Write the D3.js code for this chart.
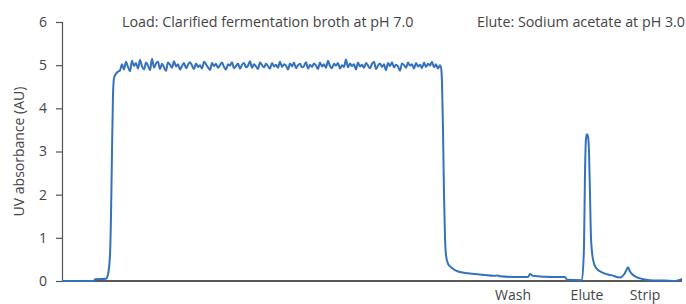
<!DOCTYPE html>
<html>
<head>
<meta charset="utf-8">
<script src="https://cdn.jsdelivr.net/npm/d3@7"></script>
<style>
  body { margin: 0; background: #fff; }
  text { font-family: "Open Sans", sans-serif; fill: #444; }
</style>
</head>
<body>
<div id="chart"></div>
<script>
// define dimensions
var svgWidth = 686;
var svgHeight = 304;
var margin = { top: 22, right: 4, bottom: 23, left: 62 };
var width = svgWidth - margin.left - margin.right;
var height = svgHeight - margin.top - margin.bottom;

// chart data (volume units along the run, UV absorbance in AU)
var yTicks = [0, 1, 2, 3, 4, 5, 6];
var phaseLabels = ["Wash", "Elute", "Strip"];
var phasePos = [451, 525, 583];
var notes = ["Load: Clarified fermentation broth at pH 7.0", "Elute: Sodium acetate at pH 3.0"];

// start of the load
var riseX = [0, 32, 33, 44, 46, 48, 49, 50, 51, 52, 54, 56];
var riseY = [0, 0, 0.04, 0.05, 0.15, 0.6, 1.5, 3.0, 4.3, 4.7, 4.8, 4.85];

// load plateau, every 2 units from 58 to 378
var plateauStart = 58;
var plateauY = [
  4.88, 5.02, 4.90, 5.08, 4.96, 4.86, 5.10, 4.98, 5.05, 4.92, 5.12, 4.97, 4.90, 5.06, 4.99, 4.88,
  5.15, 4.94, 5.04, 5.08, 4.91, 5.03, 4.95, 4.87, 5.06, 5.01, 4.94, 5.09, 4.97, 5.02, 4.90, 4.98,
  5.05, 4.93, 5.01, 5.07, 4.99, 4.91, 5.04, 4.96, 5.00, 4.92, 5.08, 5.02, 4.95, 4.89, 5.05, 4.98,
  5.03, 4.94, 5.00, 5.06, 4.96, 4.90, 5.02, 4.99, 5.07, 4.93, 4.98, 5.04, 4.92, 5.01, 5.05, 4.95,
  4.99, 5.09, 4.94, 5.02, 4.97, 4.91, 5.06, 5.00, 4.95, 5.03, 4.98, 4.92, 5.05, 4.97, 5.01, 4.94,
  5.08, 4.96, 5.02, 4.99, 4.90, 5.04, 4.97, 5.06, 4.93, 5.00, 5.03, 4.95, 4.98, 5.07, 4.92, 5.01,
  4.96, 5.04, 4.99, 4.91, 5.06, 4.97, 5.02, 4.94, 5.10, 4.98, 4.93, 5.03, 4.99, 5.05, 4.92, 5.00,
  4.96, 5.13, 4.95, 5.04, 4.98, 5.02, 4.90, 5.06, 4.97, 5.01, 4.94, 5.05, 4.99, 4.93, 5.03, 5.08,
  4.91, 4.99, 5.04, 4.96, 5.02, 4.88, 5.05, 4.98, 5.07, 4.95, 5.01, 4.97, 4.87, 5.04, 5.00, 4.94,
  5.06, 4.99, 5.02, 4.92, 5.05, 4.97, 5.01, 4.93, 5.06, 4.96, 5.03, 4.99, 5.08, 4.95, 5.02, 4.92,
  5.00
];

// end of load, wash, elute and strip
var tailX = [379, 380, 381, 382, 383, 384, 386, 390, 396, 406, 418, 433, 436, 438, 458, 466, 468, 471,
  483, 503, 505, 520, 522, 523, 524, 525, 526, 527, 528, 529, 531, 534, 540, 550, 558, 562, 565, 566,
  568, 572, 578, 588, 603, 613, 617, 620];
var tailY = [4.95, 4.6, 3.5, 2.0, 1.0, 0.6, 0.4, 0.3, 0.22, 0.18, 0.15, 0.12, 0.13, 0.11, 0.09, 0.09,
  0.16, 0.12, 0.1, 0.09, 0.03, 0.02, 0.8, 2.5, 3.3, 3.4, 3.35, 3.0, 2.0, 1.0, 0.5, 0.3, 0.2, 0.13,
  0.08, 0.15, 0.28, 0.32, 0.22, 0.12, 0.06, 0.02, 0.01, 0.0, 0.02, 0.05];

// build one series
var series = [];
riseX.forEach(function (x, i) { series.push({ x: x, y: riseY[i] }); });
plateauY.forEach(function (y, i) { series.push({ x: plateauStart + i * 2, y: y }); });
tailX.forEach(function (x, i) { series.push({ x: x, y: tailY[i] }); });

var svg = d3.select("#chart")
  .append("svg")
  .attr("width", svgWidth)
  .attr("height", svgHeight);

var g = svg.append("g")
  .attr("transform", "translate(" + margin.left + "," + margin.top + ")");

var x = d3.scaleLinear().domain([0, 620]).range([0, width]);
var y = d3.scaleLinear().domain([0, 6]).range([height, 0]);

// y axis
var yAxis = g.append("g")
  .call(d3.axisLeft(y).tickValues(yTicks).tickSize(6).tickPadding(9).tickFormat(d3.format("d")));
yAxis.select(".domain").attr("stroke", "#555").attr("stroke-width", 1.2);
yAxis.selectAll(".tick line").attr("stroke", "#555").attr("stroke-width", 1.2);
yAxis.selectAll(".tick text")
  .style("font-size", "14px")
  .style("font-family", "'Open Sans', sans-serif")
  .attr("fill", "#444");

// x axis line
g.append("line")
  .attr("x1", 0).attr("x2", x(620))
  .attr("y1", y(0)).attr("y2", y(0))
  .attr("stroke", "#222")
  .attr("stroke-width", 1.5);

// phase labels under the axis
g.selectAll(".phase")
  .data(phaseLabels)
  .enter()
  .append("text")
  .attr("class", "phase")
  .attr("x", function (d, i) { return x(phasePos[i]); })
  .attr("y", height + 19)
  .attr("text-anchor", "middle")
  .style("font-size", "14px")
  .text(function (d) { return d; });

// y axis title
svg.append("text")
  .attr("transform", "translate(24," + (margin.top + height / 2) + ") rotate(-90)")
  .attr("text-anchor", "middle")
  .style("font-size", "14px")
  .text("UV absorbance (AU)");

// notes along the top
svg.append("text")
  .attr("x", 122).attr("y", 27)
  .style("font-size", "14.3px")
  .text(notes[0]);
svg.append("text")
  .attr("x", 685).attr("y", 27)
  .attr("text-anchor", "end")
  .style("font-size", "14.3px")
  .text(notes[1]);

// the trace
var line = d3.line()
  .x(function (d) { return x(d.x); })
  .y(function (d) { return y(d.y); })
  .curve(d3.curveMonotoneX);

g.append("path")
  .datum(series)
  .attr("fill", "none")
  .attr("stroke", "#3471bf")
  .attr("stroke-width", 2)
  .attr("stroke-linejoin", "round")
  .attr("d", line);
</script>
</body>
</html>
